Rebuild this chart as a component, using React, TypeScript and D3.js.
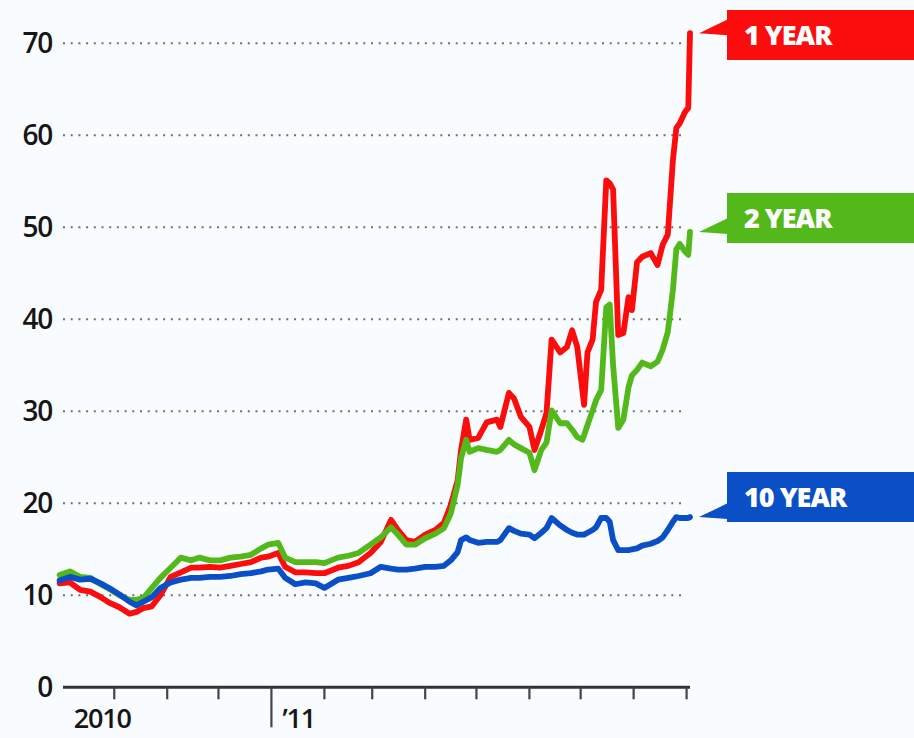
import React from "react";
import * as d3 from "d3";

const dates = [
  "2010-08-30","2010-09-05","2010-09-11","2010-09-17","2010-09-23","2010-09-28","2010-10-04","2010-10-10",
  "2010-10-14","2010-10-18","2010-10-23","2010-10-28","2010-11-03","2010-11-09","2010-11-15","2010-11-20",
  "2010-11-26","2010-12-02","2010-12-08","2010-12-14","2010-12-20","2010-12-26","2010-12-30","2011-01-05",
  "2011-01-09","2011-01-15","2011-01-21","2011-01-27","2011-02-01","2011-02-09","2011-02-15","2011-02-21",
  "2011-02-28","2011-03-06","2011-03-12","2011-03-16","2011-03-21","2011-03-26","2011-04-01","2011-04-07",
  "2011-04-12","2011-04-16","2011-04-20","2011-04-22","2011-04-25","2011-04-27","2011-05-02","2011-05-07",
  "2011-05-13","2011-05-15","2011-05-20","2011-05-23","2011-05-27","2011-06-01","2011-06-04","2011-06-08",
  "2011-06-11","2011-06-14","2011-06-19","2011-06-23","2011-06-26","2011-06-29","2011-07-02","2011-07-03",
  "2011-07-05","2011-07-08","2011-07-10","2011-07-13","2011-07-16","2011-07-18","2011-07-20","2011-07-23",
  "2011-07-26","2011-07-29","2011-07-31","2011-08-03","2011-08-06","2011-08-11","2011-08-15","2011-08-18",
  "2011-08-21","2011-08-24","2011-08-26","2011-08-28","2011-08-31","2011-09-02","2011-09-03",
];

const oneYear = [
  11.3,11.4,10.6,10.4,9.8,9.2,8.7,8.0,
  8.2,8.6,8.8,10.0,12.0,12.5,13.0,13.0,
  13.1,13.0,13.2,13.4,13.6,14.1,14.2,14.6,
  13.1,12.5,12.5,12.4,12.4,13.0,13.2,13.6,
  14.6,15.8,18.2,17.1,16.0,15.8,16.6,17.1,
  17.9,19.8,22.5,25.8,29.1,26.9,27.1,28.8,
  29.1,28.3,32.0,31.4,29.4,28.3,25.8,28.0,
  29.8,37.8,36.4,37.0,38.8,37.0,32.3,30.7,
  36.4,37.8,41.9,43.2,55.1,54.8,54.1,38.3,
  38.5,42.4,41.0,46.2,46.8,47.2,45.9,48.1,
  49.2,57.3,60.8,61.3,62.5,63.0,71.1,
];

const twoYear = [
  12.2,12.6,12.0,11.9,11.2,10.7,10.0,9.5,
  9.5,9.7,10.8,11.9,13.0,14.1,13.8,14.1,
  13.8,13.8,14.1,14.2,14.4,15.1,15.5,15.7,
  14.1,13.6,13.6,13.6,13.5,14.1,14.3,14.6,
  15.5,16.3,17.4,16.6,15.5,15.5,16.2,16.7,
  17.3,18.9,22.0,24.9,26.9,25.6,26.0,25.8,
  25.6,25.8,26.9,26.4,26.0,25.5,23.6,25.8,
  26.6,30.1,28.7,28.7,28.0,27.2,26.9,27.4,
  28.5,30.1,31.2,32.3,41.3,41.6,35.0,28.2,
  29.1,32.6,33.9,34.5,35.3,34.9,35.4,36.7,
  38.6,43.2,47.6,48.2,47.4,47.0,49.5,
];

const tenYear = [
  11.6,12.0,11.7,11.8,11.3,10.8,10.1,9.3,
  8.9,9.3,9.8,10.8,11.4,11.7,11.9,11.9,
  12.0,12.0,12.1,12.3,12.4,12.6,12.8,12.9,
  11.9,11.2,11.4,11.3,10.8,11.7,11.9,12.1,
  12.4,13.1,12.9,12.8,12.8,12.9,13.1,13.1,
  13.2,13.8,14.7,16.0,16.3,16.0,15.7,15.8,
  15.8,16.0,17.3,17.0,16.7,16.6,16.2,16.8,
  17.3,18.4,17.6,17.1,16.8,16.6,16.6,16.6,
  16.8,17.1,17.4,18.4,18.4,18.0,16.0,14.9,
  14.9,14.9,15.0,15.1,15.4,15.6,15.9,16.3,
  17.1,18.0,18.5,18.4,18.4,18.4,18.5,
];

const seriesNames = ["1 YEAR", "2 YEAR", "10 YEAR"];
const seriesColors = ["#fb0d0d", "#53b91b", "#0b4fc6"];
const yTicks = [0, 10, 20, 30, 40, 50, 60, 70];
const xDomain = ["2010-09-01", "2011-09-03"];
const yearLabels = [
  { date: "2010-09-24", text: "2010", anchor: "middle", dx: 0 },
  { date: "2011-01-01", text: "\u201911", anchor: "start", dx: 11 },
];
const yearBoundary = "2011-01-01";
// label box tops (layout)
const labelBoxTops = [10, 193, 472];

const parse = d3.timeParse("%Y-%m-%d");

export default function App() {
  const W = 914, H = 738;
  const x = d3.scaleTime().domain(xDomain.map((s) => parse(s)!)).range([63, 690]);
  const y = d3.scaleLinear().domain([0, 70]).range([687.3, 43.3]);
  const ds = dates.map((s) => parse(s)!);
  const all = [oneYear, twoYear, tenYear];
  const line = d3
    .line<number>()
    .x((_, i) => x(ds[i]))
    .y((v) => y(v));
  const months = d3.timeMonth.range(parse("2010-10-01")!, parse("2011-09-02")!);
  const boundary = parse(yearBoundary)!;
  const font = "'Open Sans', 'DejaVu Sans', sans-serif";
  const order = [0, 1, 2];

  return (
    <svg
      width={W}
      height={H}
      style={{ position: "absolute", left: 0, top: 0, background: "#f9fcfe" }}
    >
      <rect x={0} y={0} width={W} height={H} fill="#f9fcfe" />
      {yTicks
        .filter((t) => t > 0)
        .map((t) => (
          <line
            key={"g" + t}
            x1={63}
            x2={685}
            y1={y(t)}
            y2={y(t)}
            stroke="#6f6f6f"
            strokeWidth={2}
            strokeDasharray="2 5.7"
          />
        ))}
      {yTicks.map((t) => (
        <text
          key={"yl" + t}
          x={52}
          y={y(t)}
          dy="0.36em"
          textAnchor="end"
          fontFamily={font}
          fontWeight={600}
          fontSize={28}
          fill="#161616"
          letterSpacing={-1.2}
        >
          {t}
        </text>
      ))}
      <line x1={63} x2={690} y1={y(0)} y2={y(0)} stroke="#333" strokeWidth={3} />
      {months.map((m) => {
        const isB = +m === +boundary;
        return (
          <line
            key={"t" + m.toISOString()}
            x1={x(m)}
            x2={x(m)}
            y1={y(0)}
            y2={y(0) + (isB ? 40 : 12)}
            stroke="#444"
            strokeWidth={2.2}
          />
        );
      })}
      {yearLabels.map((l) => (
        <text
          key={l.text}
          x={x(parse(l.date)!) + l.dx}
          y={728}
          textAnchor={l.anchor as any}
          fontFamily={font}
          fontWeight={600}
          fontSize={27}
          fill="#161616"
          letterSpacing={-1.2}
        >
          {l.text}
        </text>
      ))}
      {order.map((k) => (
        <path
          key={"s" + k}
          d={line(all[k]) || ""}
          fill="none"
          stroke={seriesColors[k]}
          strokeWidth={5.8}
          strokeLinejoin="round"
          strokeLinecap="round"
        />
      ))}
      {order.map((k) => {
        const last = all[k][all[k].length - 1];
        const ty = y(last);
        const top = labelBoxTops[k];
        return (
          <g key={"lab" + k}>
            <path
              d={`M699,${ty} L728,${ty - 14} L728,${ty + 2} Z`}
              fill={seriesColors[k]}
            />
            <rect x={727} y={top} width={W - 727} height={50} fill={seriesColors[k]} />
            <text
              x={744}
              y={top + 35}
              fontFamily={font}
              fontWeight={800}
              fontSize={27}
              fill="#fff"
              letterSpacing={-1}
            >
              {seriesNames[k]}
            </text>
          </g>
        );
      })}
    </svg>
  );
}
